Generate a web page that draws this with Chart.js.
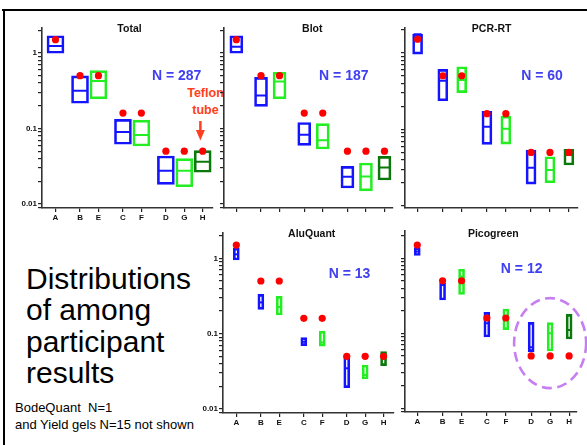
<!DOCTYPE html>
<html><head><meta charset="utf-8">
<script src="https://cdn.jsdelivr.net/npm/chart.js@4.4.1/dist/chart.umd.min.js"></script>
<style>
html,body{margin:0;padding:0;background:#fff;width:587px;height:445px;overflow:hidden;font-family:"Liberation Sans",Arial,sans-serif;position:relative;}
canvas{position:absolute;}
.ptitle{position:absolute;font-weight:bold;font-size:10.5px;line-height:1;color:#111;transform:translate(-50%,-50%);white-space:nowrap;}
.nlab{position:absolute;font-weight:bold;font-size:14px;line-height:1;color:#4040f0;transform:translate(-50%,-50%);white-space:nowrap;}
#frameTop{position:absolute;left:2px;top:9px;width:585px;height:2px;background:#000;}
#frameLeft{position:absolute;left:3px;top:9px;width:2px;height:436px;background:#000;}
#bigText{position:absolute;left:26px;top:263px;font-size:30px;line-height:31.3px;color:#000;white-space:nowrap;}
#noteText{position:absolute;left:15px;top:400px;font-size:13px;line-height:16.5px;color:#000;white-space:nowrap;}
#teflon{position:absolute;left:150px;top:85px;width:111px;text-align:center;font-weight:bold;font-size:12.5px;line-height:16.5px;color:#ff4020;}
</style></head><body>
<div id="frameTop"></div><div id="frameLeft"></div>
<div id="bigText">Distributions<br>of among<br>participant<br>results</div>
<div id="noteText">BodeQuant&nbsp; N=1<br>and Yield gels N=15 not shown</div>
<div id="teflon">Teflon<br>tube</div>
<script>
// ---------------- data ----------------
const categories = ['A','B','E','C','F','D','G','H'];
const categoryGroup = [0,1,1,2,2,3,3,3];
const expected = [1.5,0.5,0.5,0.16,0.16,0.05,0.05,0.05];
const yTickValues = [0.01,0.1,1];
const yTickLabels = ['0.01','0.1','1'];
const panelTitles = ['Total','Blot','PCR-RT','AluQuant','Picogreen'];
const panelN = [287,187,60,13,12];

const totalLow    = [0.99,0.216,0.246,0.0618,0.0586,0.0182,0.0169,0.0263];
const totalHigh   = [1.69,0.496,0.583,0.132,0.129,0.0432,0.0398,0.0508];
const totalMedian = [1.24,0.317,0.426,0.090,0.082,0.0276,0.0276,0.0363];

const blotLow    = [0.99,0.196,0.246,0.0597,0.0535,0.0163,0.0149,0.0208];
const blotHigh   = [1.69,0.475,0.553,0.120,0.116,0.0315,0.0349,0.0427];
const blotMedian = [1.21,0.274,0.420,0.0828,0.0696,0.0230,0.0231,0.0305];

const pcrLow    = [0.96,0.236,0.301,0.0637,0.064,0.0193,0.0201,0.0342];
const pcrHigh   = [1.74,0.607,0.656,0.172,0.149,0.0537,0.0439,0.0548];
const pcrMedian = [1.74,0.431,0.440,0.108,0.102,0.0315,0.0294,0.0462];

const aluLow    = [0.95,0.210,0.177,0.0693,0.0683,0.0192,0.0250,0.0376];
const aluHigh   = [1.36,0.333,0.313,0.0885,0.108,0.050,0.0384,0.0577];
const aluMedian = [1.13,0.260,0.226,0.078,0.0766,0.0347,0.0283,0.047];

const picoLow    = [1.09,0.278,0.331,0.0893,0.112,0.057,0.058,0.084];
const picoHigh   = [1.39,0.464,0.714,0.190,0.211,0.140,0.139,0.179];
const picoMedian = [1.23,0.440,0.570,0.136,0.160,0.065,0.100,0.111];

// ---------------- styles / layout ----------------
const boxColors = {A:'#1414ff',B:'#1414ff',C:'#1414ff',D:'#1414ff',E:'#22ee22',F:'#22ee22',G:'#22ee22',H:'#0a780a'};
const FONT = '"Liberation Sans", Arial, sans-serif';
const xPos = categories.map((c,i)=>3*i + categoryGroup[i]);

function yMinorTicks(min,max){
  const out=[];
  for(let e=-3;e<=1;e++){ for(let m=1;m<=9;m++){
    const v = +(m*Math.pow(10,e)).toPrecision(3);
    if(v>=min && v<=max) out.push({value:v, major:m===1});
  }}
  return out;
}
function yLabel(v){
  const k = yTickValues.findIndex(t=>Math.abs(t-v)/t<1e-6);
  return k>=0 ? yTickLabels[k] : '';
}

const teflonArrow = {
  id:'teflonArrow',
  afterDraw(chart){
    const c=chart.ctx, xs=chart.scales.x;
    const x = xs.getPixelForValue(xPos[7]) - 2.3;
    c.save(); c.strokeStyle='#ff4020'; c.fillStyle='#ff4020'; c.lineWidth=2.5;
    c.beginPath(); c.moveTo(x,121); c.lineTo(x,131); c.stroke();
    c.beginPath(); c.moveTo(x-4.5,130); c.lineTo(x+4.5,130); c.lineTo(x,140.5); c.closePath(); c.fill();
    c.restore();
  }
};
const dashedCircle = {
  id:'dashedCircle',
  afterDraw(chart){
    const c=chart.ctx, xs=chart.scales.x, ys=chart.scales.y;
    const cx = xs.getPixelForValue(xPos[6]);
    const cy = ys.getPixelForValue(0.074);
    c.save(); c.strokeStyle='#c77ef0'; c.lineWidth=2.6; c.setLineDash([10,5.5]);
    c.beginPath(); c.ellipse(cx,cy,36,45,0,0,Math.PI*2); c.stroke();
    c.restore();
  }
};

const panels = [
  {left:0,  top:0,   w:222, h:225, padTop:28, padRight:5,  yW:42, xH:17, ymin:0.00885, ymax:2.14, xmin:-2.2, xmax:25.6, barW:17, yLabels:true,  xLabels:true,  lows:totalLow, highs:totalHigh, meds:totalMedian, plugins:[teflonArrow], tx:129.5, ty:27.5, nx:176.7, ny:75.3},
  {left:210,top:0,   w:190, h:225, padTop:28, padRight:3,  yW:14, xH:17, ymin:0.00885, ymax:2.14, xmin:-2.0, xmax:25.3, barW:13, yLabels:false, xLabels:false, lows:blotLow, highs:blotHigh, meds:blotMedian, plugins:[], tx:312.3, ty:28, nx:343.8, ny:75},
  {left:395,top:0,   w:192, h:225, padTop:28, padRight:9.3,yW:10, xH:17, ymin:0.0094, ymax:2.1, xmin:-2.0, xmax:25.4, barW:10, yLabels:false, xLabels:false, lows:pcrLow, highs:pcrHigh, meds:pcrMedian, plugins:[], tx:491.7, ty:28, nx:542, ny:75},
  {left:180,top:222, w:220, h:223, padTop:11, padRight:1,  yW:43, xH:32, ymin:0.00885, ymax:2.17, xmin:-2.17, xmax:25.7, barW:6, yLabels:true, xLabels:true, lows:aluLow, highs:aluHigh, meds:aluMedian, plugins:[], tx:311.7, ty:232.5, nx:349.5, ny:273.3},
  {left:395,top:222, w:192, h:223, padTop:9,  padRight:10.3,yW:10, xH:33, ymin:0.00893, ymax:2.31, xmin:-1.94, xmax:25.2, barW:6, yLabels:false, xLabels:true, lows:picoLow, highs:picoHigh, meds:picoMedian, plugins:[dashedCircle], tx:493.3, ty:233.3, nx:521.7, ny:267.8}
];

function axisGrid(){
  return {display:true, offset:false, drawOnChartArea:false, drawTicks:true, tickLength:4, tickColor:'#222', color:'#222', lineWidth:1.2};
}

panels.forEach((p,pi)=>{
  const cv = document.createElement('canvas');
  cv.width=p.w; cv.height=p.h; cv.style.left=p.left+'px'; cv.style.top=p.top+'px';
  document.body.appendChild(cv);
  const colors = categories.map(c=>boxColors[c]);
  const tickFont = {family:FONT, size:8, weight:'bold'};
  new Chart(cv, {
    type:'bar',
    data:{datasets:[
      {type:'scatter', data:categories.map((c,i)=>({x:xPos[i], y:expected[i]})), pointRadius:3.6, pointBackgroundColor:'#ff0000', pointBorderWidth:0, order:0},
      {type:'scatter', data:categories.map((c,i)=>({x:xPos[i], y:p.meds[i]})), pointStyle:'line', pointRadius:p.barW/2-1, pointBorderColor:colors, pointBorderWidth:2, order:1},
      {type:'bar', data:categories.map((c,i)=>({x:xPos[i], y:[p.lows[i], p.highs[i]]})), backgroundColor:'rgba(0,0,0,0)', borderColor:colors, borderWidth:2, borderSkipped:false, barThickness:p.barW, order:2}
    ]},
    options:{
      responsive:false, animation:false, events:[], devicePixelRatio:1,
      layout:{padding:{top:p.padTop, right:p.padRight, bottom:0, left:0}},
      plugins:{legend:{display:false}, tooltip:{enabled:false}, title:{display:false}},
      scales:{
        x:{type:'linear', min:p.xmin, max:p.xmax, offset:false,
          afterBuildTicks:s=>{ s.ticks = xPos.map(v=>({value:v})); },
          afterFit:s=>{ s.height = p.xH; },
          ticks:{display:p.xLabels, autoSkip:false, maxRotation:0, padding:1, color:'#111', font:tickFont,
                 callback:(v)=>categories[xPos.indexOf(v)] ?? ''},
          grid:axisGrid(), border:{display:true, color:'#333', width:1.6}},
        y:{type:'logarithmic', min:p.ymin, max:p.ymax,
          afterBuildTicks:s=>{ s.ticks = yMinorTicks(p.ymin,p.ymax); },
          afterFit:s=>{ s.width = p.yW; },
          ticks:{display:p.yLabels, autoSkip:false, padding:1, color:'#111', font:tickFont, callback:v=>yLabel(v)},
          grid:axisGrid(), border:{display:true, color:'#333', width:1.6}}
      }
    },
    plugins:p.plugins
  });
  const t=document.createElement('div'); t.className='ptitle'; t.textContent=panelTitles[pi];
  t.style.left=p.tx+'px'; t.style.top=p.ty+'px'; document.body.appendChild(t);
  const n=document.createElement('div'); n.className='nlab'; n.textContent='N = '+panelN[pi];
  n.style.left=p.nx+'px'; n.style.top=p.ny+'px'; document.body.appendChild(n);
});
</script>
</body></html>
